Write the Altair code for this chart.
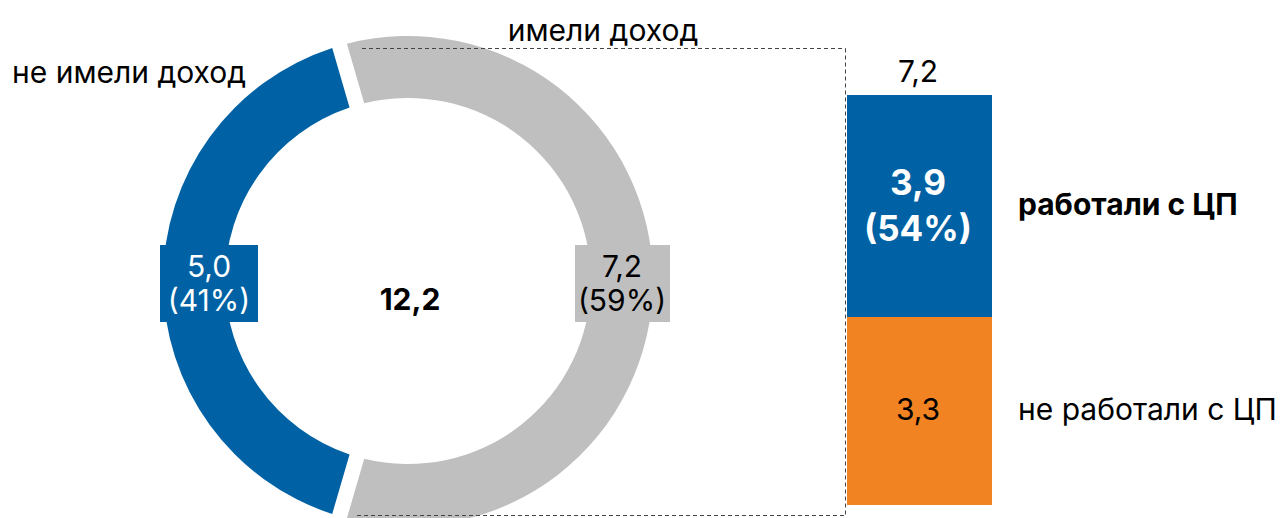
import math
import altair as alt
import pandas as pd

# ---- data ----
donut_cats = ["имели доход", "не имели доход"]
donut_vals = [7.2, 5.0]
donut_pcts = ["59%", "41%"]
total_val = 12.2

bar_cats = ["не работали с ЦП", "работали с ЦП"]
bar_vals = [3.3, 3.9]
bar_pcts = ["", "54%"]

# ---- styles ----
BLUE = "#0062A5"
GRAY = "#BFBFBF"
ORANGE = "#F28322"
FONT = "Inter"
FS = 30
W, H = 1268, 510


def fmt(v):
    return f"{v:.1f}".replace(".", ",")


share_first = donut_vals[0] / sum(donut_vals)
start = math.pi / 2 - math.pi * share_first

donut_df = pd.DataFrame({
    "cat": donut_cats,
    "val": donut_vals,
    "ord": list(range(len(donut_cats))),
})

CX, CY = 400, 273

donut = alt.Chart(donut_df).mark_arc(innerRadius=183, outerRadius=245, padAngle=0.05).encode(
    theta=alt.Theta("val:Q", stack=True, scale=alt.Scale(range=[start, start + 2 * math.pi])),
    color=alt.Color("cat:N", scale=alt.Scale(domain=donut_cats, range=[GRAY, BLUE]), legend=None),
    order=alt.Order("ord:Q"),
    x=alt.value(CX),
    y=alt.value(CY),
)

one = alt.Data(values=[{}])
dash = dict(strokeDash=[4, 3], color="#444444", strokeWidth=1)
rule_top = alt.Chart(one).mark_rule(**dash).encode(x=alt.value(354), x2=alt.value(837.5), y=alt.value(40.5))
rule_right = alt.Chart(one).mark_rule(**dash).encode(x=alt.value(837.5), y=alt.value(40.5), y2=alt.value(507.5))
rule_bot = alt.Chart(one).mark_rule(**dash).encode(x=alt.value(349), x2=alt.value(837.5), y=alt.value(507.5))

box_blue = alt.Chart(one).mark_rect(color=BLUE).encode(
    x=alt.value(152), x2=alt.value(250), y=alt.value(237), y2=alt.value(314))
box_gray = alt.Chart(one).mark_rect(color=GRAY).encode(
    x=alt.value(567), x2=alt.value(662), y=alt.value(237), y2=alt.value(314))


def label(text, x, y, size=FS, weight="normal", color="black", align="center", baseline="alphabetic", lh=34):
    return alt.Chart(alt.Data(values=[{"t": text}])).mark_text(
        font=FONT, fontSize=size, fontWeight=weight, color=color, align=align,
        baseline=baseline, lineBreak="\n", lineHeight=lh,
    ).encode(text="t:N", x=alt.value(x), y=alt.value(y))


t_no = label(donut_cats[1], 4, 75, align="left")
t_yes = label(donut_cats[0], 595, 33)
t_blue = label(f"{fmt(donut_vals[1])}\n({donut_pcts[1]})", 201, 269, color="white")
t_gray = label(f"{fmt(donut_vals[0])}\n({donut_pcts[0]})", 614, 269)
t_total = label(fmt(total_val), 402, 302, weight="bold")

# ---- stacked bar ----
y0 = [0.0]
for v in bar_vals[:-1]:
    y0.append(y0[-1] + v)
bar_df = pd.DataFrame({
    "cat": bar_cats,
    "y0": y0,
    "y1": [a + b for a, b in zip(y0, bar_vals)],
    "mid": [a + b / 2 for a, b in zip(y0, bar_vals)],
    "lab": [fmt(v) if p == "" else f"{fmt(v)}\n({p})" for v, p in zip(bar_vals, bar_pcts)],
    "bold": [p != "" for p in bar_pcts],
})
bar_total = sum(bar_vals)
yscale = alt.Scale(domain=[0, bar_total], range=[497, 87], nice=False, zero=True)

bar = alt.Chart(bar_df).mark_bar().encode(
    x=alt.value(839), x2=alt.value(984),
    y=alt.Y("y0:Q", scale=yscale, axis=None),
    y2="y1:Q",
    color=alt.Color("cat:N", scale=alt.Scale(domain=bar_cats, range=[ORANGE, BLUE]), legend=None),
)

bar_val_plain = alt.Chart(bar_df).transform_filter("!datum.bold").mark_text(
    font=FONT, fontSize=FS, color="black", baseline="middle", lineBreak="\n").encode(
    x=alt.value(910), y=alt.Y("mid:Q", scale=yscale, axis=None), text="lab:N")
bar_val_bold = alt.Chart(bar_df).transform_filter("datum.bold").mark_text(
    font=FONT, fontSize=35, fontWeight="bold", color="white", baseline="middle",
    lineBreak="\n", lineHeight=46, dy=-22).encode(
    x=alt.value(910), y=alt.Y("mid:Q", scale=yscale, axis=None), text="lab:N")

cat_plain = alt.Chart(bar_df).transform_filter("!datum.bold").mark_text(
    font=FONT, fontSize=FS, color="black", align="left", baseline="middle").encode(
    x=alt.value(1010), y=alt.Y("mid:Q", scale=yscale, axis=None), text="cat:N")
cat_bold = alt.Chart(bar_df).transform_filter("datum.bold").mark_text(
    font=FONT, fontSize=FS, fontWeight="bold", color="black", align="left", baseline="middle").encode(
    x=alt.value(1010), y=alt.Y("mid:Q", scale=yscale, axis=None), text="cat:N")

tot_df = pd.DataFrame({"v": [bar_total], "lab": [fmt(bar_total)]})
bar_tot = alt.Chart(tot_df).mark_text(
    font=FONT, fontSize=FS, color="black", baseline="alphabetic", dy=-13).encode(
    x=alt.value(910), y=alt.Y("v:Q", scale=yscale, axis=None), text="lab:N")

chart = alt.layer(
    donut, rule_top, rule_right, rule_bot, box_blue, box_gray,
    t_no, t_yes, t_blue, t_gray, t_total,
    bar, bar_val_plain, bar_val_bold, cat_plain, cat_bold, bar_tot,
).resolve_scale(color="independent").properties(
    width=W, height=H, padding=0, autosize=alt.AutoSizeParams(type="none"),
).configure_view(stroke=None)

chart.save("out.html", embed_options={"renderer": "svg", "actions": False})
